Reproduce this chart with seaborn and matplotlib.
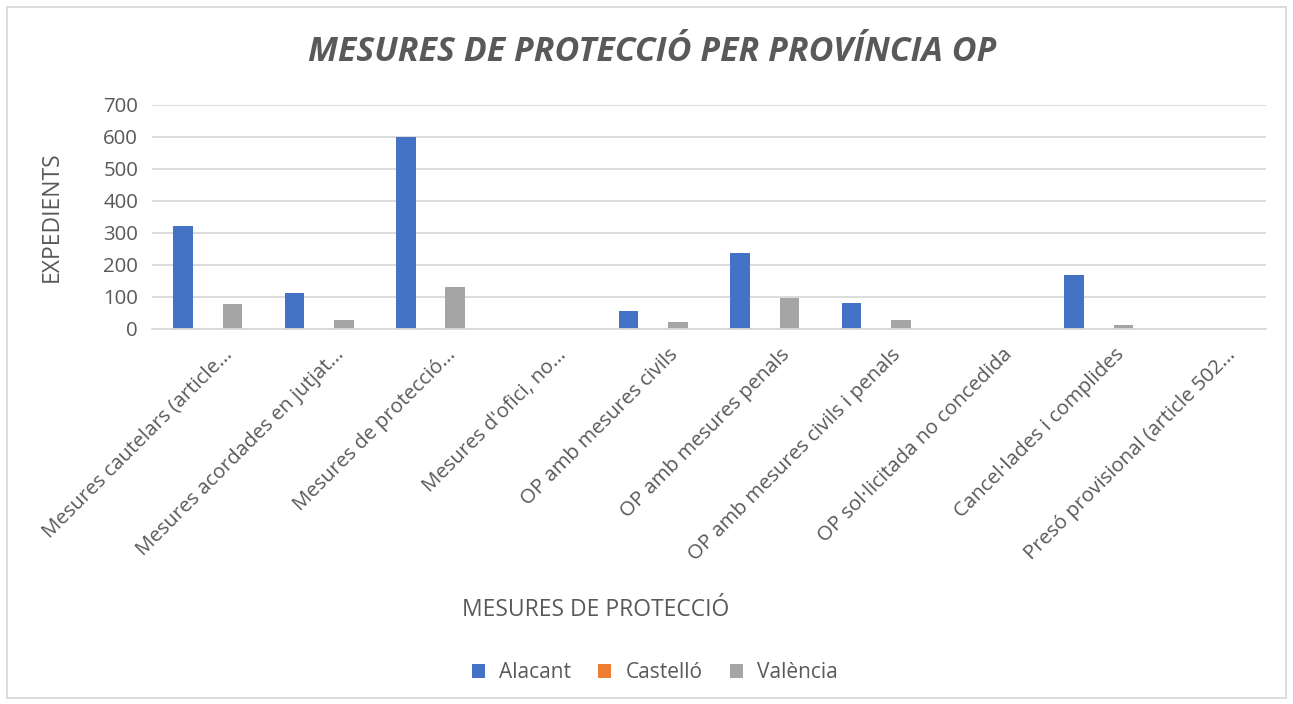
import pandas as pd
import matplotlib.pyplot as plt
import matplotlib.transforms as mtransforms
from matplotlib.patches import Rectangle
import seaborn as sns

sns.set_style('white')
plt.rcParams['font.family'] = ['Open Sans', 'DejaVu Sans']

# categories on the x axis (as truncated in the original chart)
categories = ['Mesures cautelars (article...', 'Mesures acordades en jutjat...',
              'Mesures de protecció...', "Mesures d'ofici, no...",
              'OP amb mesures civils', 'OP amb mesures penals',
              'OP amb mesures civils i penals', 'OP sol·licitada no concedida',
              'Cancel·lades i complides', 'Presó provisional (article 502...']
provinces = ['Alacant', 'Castelló', 'València']
alacant = [323, 111, 600, 0, 56, 236, 82, 0, 168, 0]
castello = [0, 0, 4, 0, 0, 0, 0, 0, 0, 0]
valencia = [78, 28, 132, 0, 23, 97, 28, 0, 11, 0]
colors = ['#4472C4', '#ED7D31', '#A5A5A5']
grey_text = '#595959'
grid_col = '#D9D9D9'

df = pd.DataFrame({
    'categoria': categories * 3,
    'provincia': [p for p in provinces for _ in categories],
    'expedients': alacant + castello + valencia,
})

fig = plt.figure(figsize=(12.93, 7.04), dpi=100)
ax = fig.add_axes([152 / 1293, 1 - 329 / 704, 1114 / 1293, 224 / 704])

sns.barplot(data=df, x='categoria', y='expedients', hue='provincia',
            order=categories, hue_order=provinces, palette=colors, saturation=1,
            width=0.666, gap=0.21, ax=ax, errorbar=None, linewidth=0)

ax.set_ylim(0, 700)
ax.set_yticks(range(0, 701, 100))
ax.set_xlim(-0.5, len(categories) - 0.5)
ax.yaxis.grid(True, color=grid_col, linewidth=1.3)
ax.set_axisbelow(True)
for s in ['top', 'right', 'left']:
    ax.spines[s].set_visible(False)
ax.spines['bottom'].set_color(grid_col)
ax.spines['bottom'].set_linewidth(1.3)
ax.tick_params(axis='both', length=0, colors=grey_text, labelsize=14.7)
ax.tick_params(axis='y', pad=10)
ax.set_xlabel('')
ax.set_ylabel('')

# rotated category labels, end of text near the category centre
offset = mtransforms.ScaledTranslation(22 / 100, -18 / 100, fig.dpi_scale_trans)
for lab in ax.get_xticklabels():
    lab.set_rotation(45)
    lab.set_ha('right')
    lab.set_va('center')
    lab.set_rotation_mode('anchor')
    lab.set_transform(lab.get_transform() + offset)

handles, labels = ax.get_legend_handles_labels()
ax.legend_.remove()
leg = fig.legend(handles, labels, loc='center', bbox_to_anchor=(655 / 1293, 1 - 673 / 704),
                 ncol=3, frameon=False, fontsize=15, handlelength=0.62, handleheight=0.62,
                 handletextpad=0.7, columnspacing=1.3, labelcolor=grey_text)

fig.text(652 / 1293, 1 - 52 / 704, 'MESURES DE PROTECCIÓ PER PROVÍNCIA OP',
         ha='center', va='center', fontsize=24.5, fontweight='bold', fontstyle='italic',
         color=grey_text)
fig.text(596 / 1293, 1 - 610 / 704, 'MESURES DE PROTECCIÓ', ha='center', va='center',
         fontsize=16.5, color=grey_text)
fig.text(52 / 1293, 1 - 217 / 704, 'EXPEDIENTS', ha='center', va='center',
         rotation=90, fontsize=16.5, color=grey_text)

# chart area border
fig.patches.append(Rectangle((7 / 1293, 6 / 704), 1279 / 1293, 691 / 704,
                             transform=fig.transFigure, fill=False,
                             edgecolor=grid_col, linewidth=1.3))

fig.savefig('out.png', dpi=100)
